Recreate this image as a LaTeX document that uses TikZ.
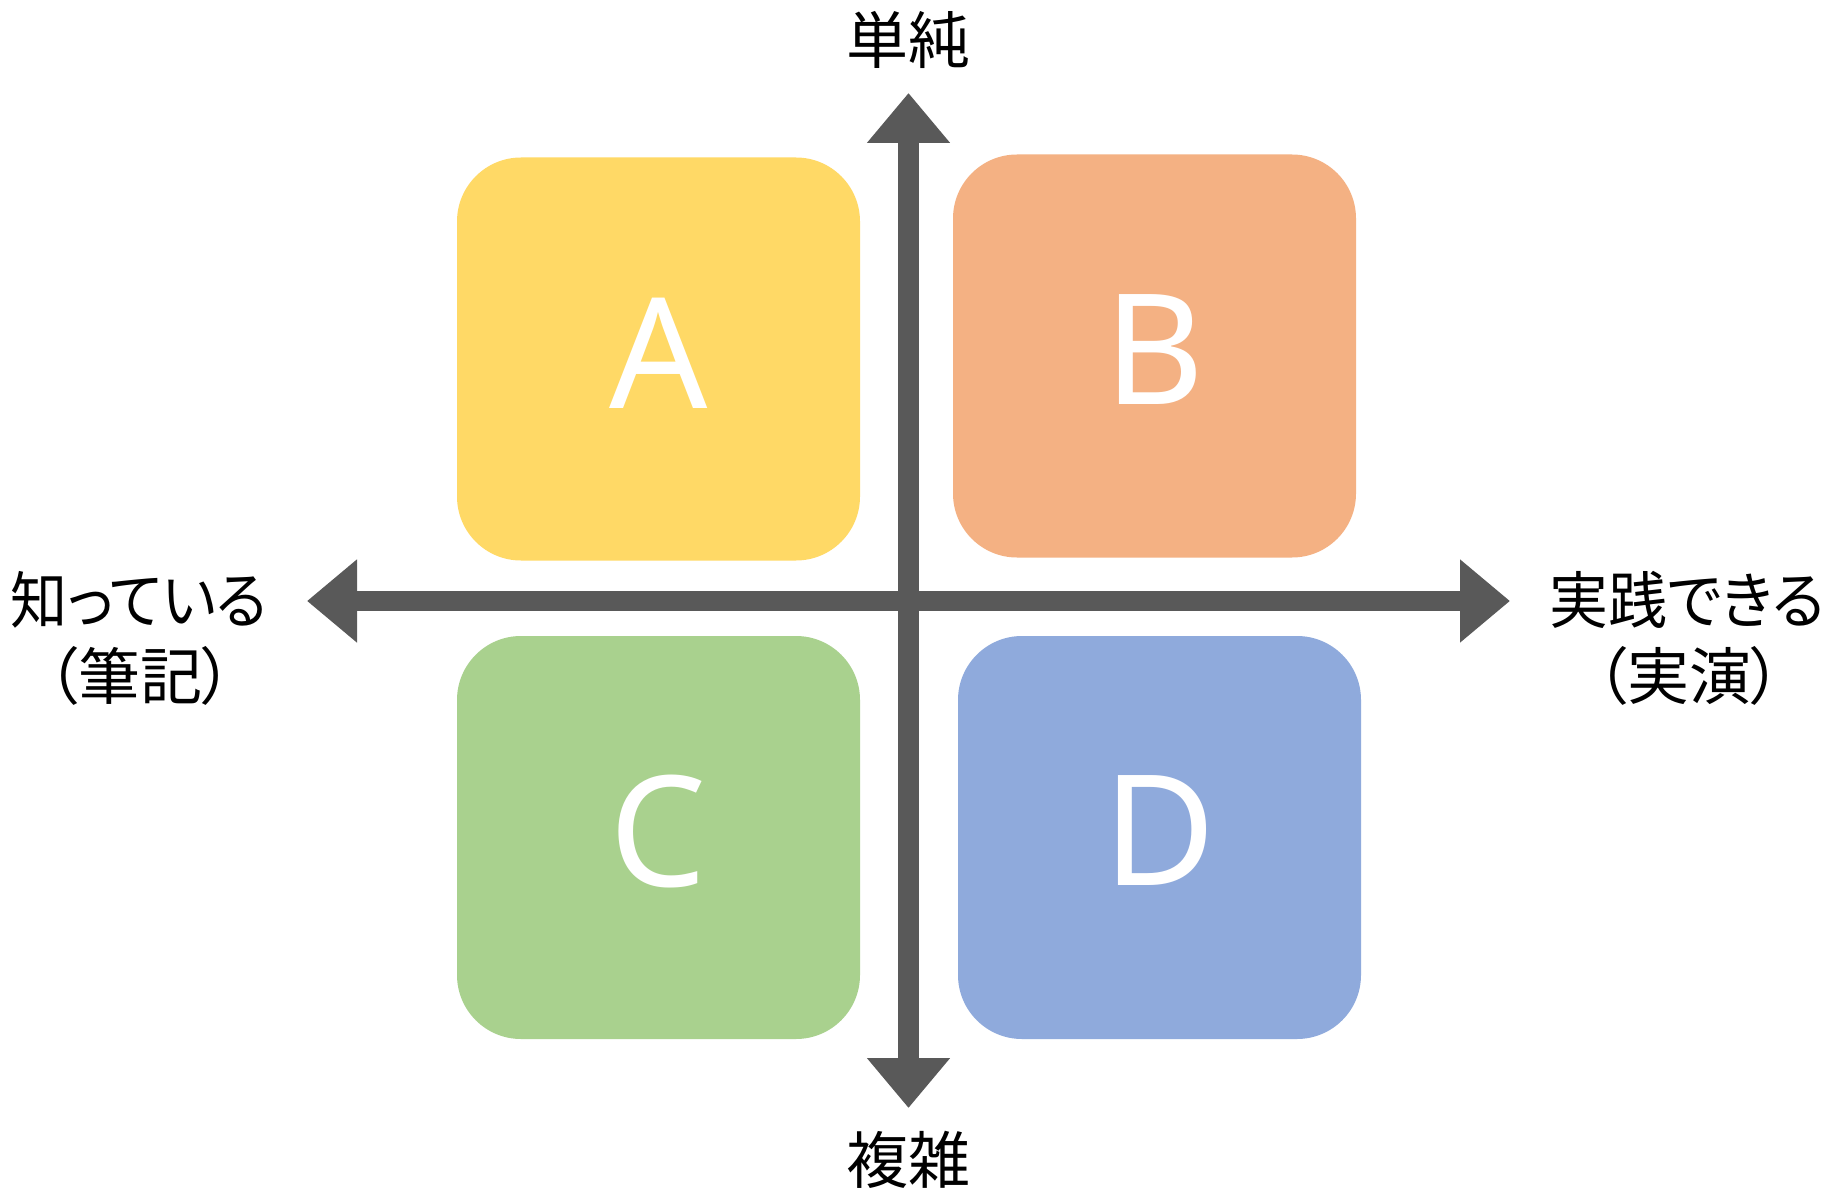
\documentclass[tikz,border=0pt]{standalone}
\usepackage{fontspec}
\usetikzlibrary{arrows.meta}
\newfontfamily\jpfont[RawFeature=+palt]{Noto Sans CJK JP}
\newfontfamily\letterfont{Noto Sans}
\definecolor{cA}{HTML}{FFD966}
\definecolor{cB}{HTML}{F4B183}
\definecolor{cC}{HTML}{A9D18E}
\definecolor{cD}{HTML}{8FAADC}
\definecolor{axisgray}{HTML}{595959}
\tikzset{
  quad/.style={rounded corners=64pt, minimum width=403pt, minimum height=403pt, inner sep=0pt, outer sep=0pt},
  letter/.style={anchor=base, text=white, inner sep=0pt, font=\letterfont\fontsize{154}{160}\selectfont},
  axislabel/.style={anchor=base, inner sep=0pt, font=\jpfont\fontsize{62}{76}\selectfont},
  axisarrow/.style={draw=axisgray, line width=20.5pt, {Triangle[width=80pt,length=50pt]}-{Triangle[width=80pt,length=50pt]}}
}
\begin{document}
\begin{tikzpicture}[x=1pt,y=-1pt]
\useasboundingbox[fill=white] (0,0) rectangle (1840,1198);
% quadrant boxes
\node[quad, fill=cA] (A) at (658.5,359) {};
\node[quad, fill=cB] (B) at (1154.5,356) {};
\node[quad, fill=cC] (C) at (658.5,837.5) {};
\node[quad, fill=cD] (D) at (1159.5,837.5) {};
% letters
\node[letter] (lA) at ([yshift=-251pt]A.north) {A};
\node[letter] (lB) at ([yshift=-250pt]B.north) {B};
\node[letter] (lC) at ([yshift=-250pt]C.north) {C};
\node[letter] (lD) at ([yshift=-249pt]D.north) {D};
% axes
\coordinate (left) at (307,601);
\coordinate (right) at (1510,601);
\coordinate (top) at (908.5,93);
\coordinate (bottom) at (908.5,1108);
\draw[axisarrow] (left) -- (right);
\draw[axisarrow] (top) -- (bottom);
% labels
\node[axislabel] (simple) at (908,64) {単純};
\node[axislabel] (complex) at (908,1183) {複雑};
\node[axislabel] (know) at (139,623) {\scalebox{0.92}[1]{知っている}};
\node[axislabel] (know2) at (140,699) {（筆記）};
\node[axislabel] (do) at (1687,623) {\scalebox{0.95}[1]{実践できる}};
\node[axislabel] (do2) at (1689,699) {（実演）};
\end{tikzpicture}
\end{document}
